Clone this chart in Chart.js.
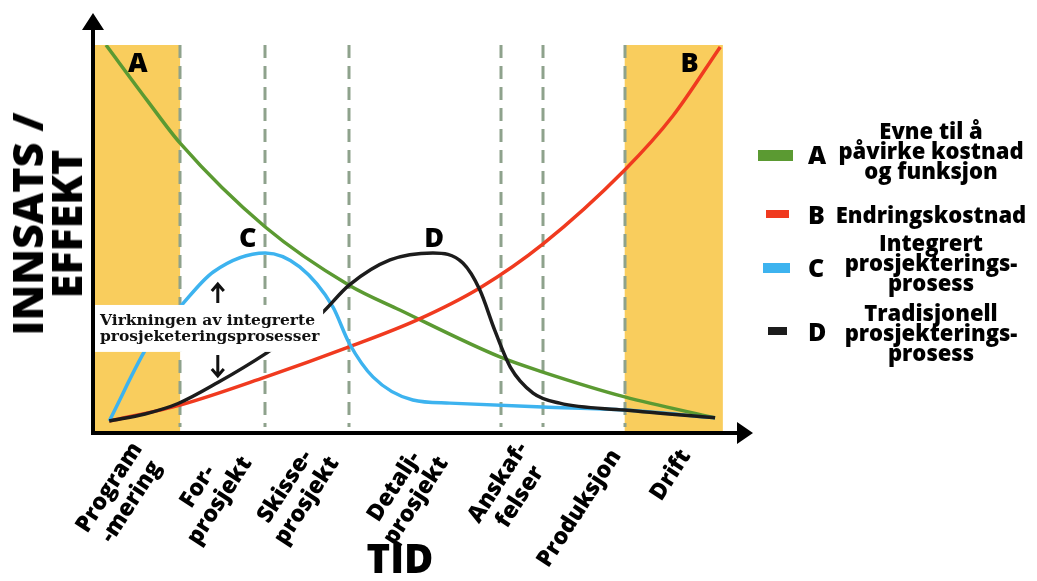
<!DOCTYPE html>
<html>
<head>
<meta charset="utf-8">
<script src="https://cdn.jsdelivr.net/npm/chart.js@4.4.1/dist/chart.umd.min.js"></script>
<style>
  body { margin: 0; background: #fff; }
  #wrap { position: relative; width: 1037px; height: 581px; font-family: 'Open Sans', sans-serif; color: #000; }
  #myChart { position: absolute; left: 0; top: 0; }
  #ytitle { position: absolute; left: 46px; top: 224px; transform: translate(-50%, -50%) rotate(-90deg);
            font-size: 43px; font-weight: 800; line-height: 39px; text-align: center; white-space: nowrap; }
  #xtitle { position: absolute; left: 400px; top: 536px; transform: translateX(-50%);
            font-size: 40px; font-weight: 800; line-height: 44px; }
  .sw { position: absolute; }
  .lt { position: absolute; font-size: 25px; font-weight: 800; line-height: 24px; }
  .tx { position: absolute; left: 821px; width: 220px; font-size: 22px; font-weight: 800; line-height: 20px; text-align: center; white-space: nowrap; }
</style>
</head>
<body>
<div id="wrap">
  <canvas id="myChart" width="1037" height="581"></canvas>
  <div id="ytitle">INNSATS /<br>EFFEKT</div>
  <div id="xtitle">TID</div>
  <div id="legend"></div>
</div>
<script>
// Tid (0-100) og innsats/effekt (0-100), lest av figuren
const tidA = [2.0, 8.3, 13.4, 26.5, 39.4, 47.2, 62.6, 69.2, 81.8, 95.7];
const verdiA = [100, 85.8, 74.7, 53.1, 38.1, 31.7, 19.6, 15.7, 9.3, 3.9];

const tidB = [2.5, 13.4, 26.5, 39.4, 49.8, 59.5, 69.2, 81.8, 89.2, 96.5];
const verdiB = [3.1, 7.2, 14.4, 22.2, 29.1, 37.4, 48.7, 67.8, 81.7, 99.5];

const tidC = [2.5, 8.8, 13.4, 18.5, 26.5, 31.8, 36.9, 39.4, 43.1, 49.2, 54.9, 69.2, 81.8, 95.7];
const verdiC = [3.1, 23.5, 32.5, 41.5, 46.4, 42.8, 32.5, 23.2, 14.4, 8.5, 7.7, 6.7, 5.9, 3.9];

const tidD = [2.5, 8.0, 13.1, 19.2, 26.5, 34.9, 39.4, 45.7, 52.3, 56.9, 59.5, 61.8, 64.2, 67.7, 71.8, 81.8, 95.7];
const verdiD = [3.1, 4.9, 7.6, 13.0, 20.4, 30.4, 38.1, 44.6, 46.4, 43.8, 36.9, 26.5, 17.0, 10.3, 7.7, 5.9, 3.9];

// Faser: stiplede skillelinjer og gule felt
const faseGrenser = [13.4, 26.5, 39.4, 62.8, 69.2, 81.8];
const gulefelt = [[0, 13.4], [81.8, 96.9]];

// Fasenavn langs tidsaksen
const tickPos = [8.5, 22.0, 35.4, 52.2, 67.8, 80.5, 91.2];
const tickLabels = [['Program', '-mering'], ['For-', 'prosjekt'], ['Skisse-', 'prosjekt'], ['Detalj-', 'prosjekt'],
                    ['Anskaf-', 'felser'], ['Produksjon'], ['Drift']];

// Bokstaver ved kurvene (x, y)
const bokstaver = ['A', 'B', 'C', 'D'];
const bokstavX = [6.9, 91.8, 23.8, 52.5];
const bokstavY = [93.0, 93.0, 47.9, 47.9];

const serieNavn = [['Evne til å', 'påvirke kostnad', 'og funksjon'], ['Endringskostnad'],
                   ['Integrert', 'prosjekterings-', 'prosess'], ['Tradisjonell', 'prosjekterings-', 'prosess']];
const farger = ['#5b9a32', '#f03a1f', '#3db3ef', '#1c1c1c'];

const punkter = (xs, ys) => xs.map((v, i) => ({ x: v, y: ys[i] }));

const decor = {
  id: 'decor',
  beforeDatasetsDraw(chart) {
    const { ctx, chartArea: a, scales: { x, y } } = chart;
    ctx.save();
    ctx.fillStyle = '#f9cd5d';
    gulefelt.forEach(([s, e]) => {
      const x0 = x.getPixelForValue(s), x1 = x.getPixelForValue(e);
      ctx.fillRect(x0, a.top, x1 - x0, a.bottom - a.top);
    });
    ctx.strokeStyle = '#8ea28c';
    ctx.lineWidth = 3;
    ctx.setLineDash([13, 8]);
    faseGrenser.forEach(v => {
      const px = Math.round(x.getPixelForValue(v));
      ctx.beginPath();
      ctx.moveTo(px, a.top);
      ctx.lineTo(px, a.bottom - 6);
      ctx.stroke();
    });
    ctx.restore();
  },
  afterDatasetsDraw(chart) {
    const { ctx, chartArea: a, scales: { x, y } } = chart;
    ctx.save();

    // tekstboks med piler
    const bx0 = a.left + 1, bx1 = x.getPixelForValue(35.4);
    const by0 = y.getPixelForValue(33.0), by1 = y.getPixelForValue(20.9);
    ctx.fillStyle = '#fff';
    ctx.fillRect(bx0, by0, bx1 - bx0, by1 - by0);
    ctx.fillStyle = '#111';
    ctx.font = "bold 15.5px 'DejaVu Serif'";
    ctx.textBaseline = 'alphabetic';
    ctx.fillText('Virkningen av integrerte', bx0 + 6, by0 + 20);
    ctx.fillText('prosjeketeringsprosesser', bx0 + 6, by0 + 36);

    const ax = x.getPixelForValue(19.2);
    ctx.strokeStyle = '#111';
    ctx.lineWidth = 3;
    ctx.beginPath();
    ctx.moveTo(ax, by0 - 2); ctx.lineTo(ax, by0 - 19);
    ctx.moveTo(ax - 6, by0 - 14); ctx.lineTo(ax, by0 - 21); ctx.lineTo(ax + 6, by0 - 14);
    ctx.moveTo(ax, by1 + 3); ctx.lineTo(ax, by1 + 22);
    ctx.moveTo(ax - 6, by1 + 17); ctx.lineTo(ax, by1 + 24); ctx.lineTo(ax + 6, by1 + 17);
    ctx.stroke();

    // bokstaver
    ctx.fillStyle = '#000';
    ctx.font = "800 27px 'Open Sans'";
    ctx.textAlign = 'center';
    bokstaver.forEach((b, i) => ctx.fillText(b, x.getPixelForValue(bokstavX[i]), y.getPixelForValue(bokstavY[i])));

    // akser med piler
    ctx.lineWidth = 4;
    ctx.strokeStyle = '#000';
    ctx.beginPath();
    ctx.moveTo(a.left, a.bottom + 2); ctx.lineTo(a.left, 26);
    ctx.moveTo(a.left - 2, a.bottom); ctx.lineTo(a.right - 3, a.bottom);
    ctx.stroke();
    ctx.beginPath();
    ctx.moveTo(a.left, 13); ctx.lineTo(a.left - 11, 30); ctx.lineTo(a.left + 11, 30); ctx.closePath();
    ctx.moveTo(a.right + 10, a.bottom); ctx.lineTo(a.right - 6, a.bottom - 11); ctx.lineTo(a.right - 6, a.bottom + 11); ctx.closePath();
    ctx.fill();

    // fasenavn
    ctx.font = "800 23px 'Open Sans'";
    ctx.textAlign = 'center';
    ctx.textBaseline = 'middle';
    tickLabels.forEach((lines, i) => {
      const maxW = Math.max(...lines.map(l => ctx.measureText(l).width));
      ctx.save();
      ctx.translate(x.getPixelForValue(tickPos[i]), a.bottom + 19);
      ctx.rotate(-57 * Math.PI / 180);
      lines.forEach((l, j) => ctx.fillText(l, -maxW / 2, (j - (lines.length - 1) / 2) * 26));
      ctx.restore();
    });
    ctx.restore();
  }
};

const ctx = document.getElementById('myChart');
new Chart(ctx, {
  type: 'line',
  data: {
    datasets: [
      { label: serieNavn[0].join(' '), data: punkter(tidA, verdiA), borderColor: farger[0], order: 3 },
      { label: serieNavn[1].join(' '), data: punkter(tidB, verdiB), borderColor: farger[1], order: 2 },
      { label: serieNavn[2].join(' '), data: punkter(tidC, verdiC), borderColor: farger[2], order: 1 },
      { label: serieNavn[3].join(' '), data: punkter(tidD, verdiD), borderColor: farger[3], order: 0 }
    ]
  },
  options: {
    responsive: false,
    animation: false,
    devicePixelRatio: 1,
    layout: { padding: { left: 93, right: 294, top: 45, bottom: 148 } },
    elements: {
      point: { radius: 0 },
      line: { borderWidth: 3.5, cubicInterpolationMode: 'monotone', fill: false }
    },
    plugins: { legend: { display: false }, tooltip: { enabled: false } },
    scales: {
      x: { type: 'linear', min: 0, max: 100, display: false },
      y: { min: 0, max: 100, display: false }
    }
  },
  plugins: [decor]
});

// forklaring til høyre
const legend = document.getElementById('legend');
const swatch = [[758, 150, 35, 11], [766, 210, 23, 8], [763, 263, 27, 10], [768, 327, 19, 8]];
const bokstavTopp = [142, 202, 255, 319];
const tekstTopp = [120, 204, 232, 302];
serieNavn.forEach((navn, i) => {
  const s = document.createElement('div');
  s.className = 'sw';
  s.style.cssText = `left:${swatch[i][0]}px;top:${swatch[i][1]}px;width:${swatch[i][2]}px;height:${swatch[i][3]}px;background:${farger[i]}`;
  legend.appendChild(s);
  const l = document.createElement('div');
  l.className = 'lt';
  l.style.cssText = `left:808px;top:${bokstavTopp[i]}px`;
  l.textContent = bokstaver[i];
  legend.appendChild(l);
  const t = document.createElement('div');
  t.className = 'tx';
  t.style.top = tekstTopp[i] + 'px';
  t.innerHTML = navn.join('<br>');
  legend.appendChild(t);
});
</script>
</body>
</html>
